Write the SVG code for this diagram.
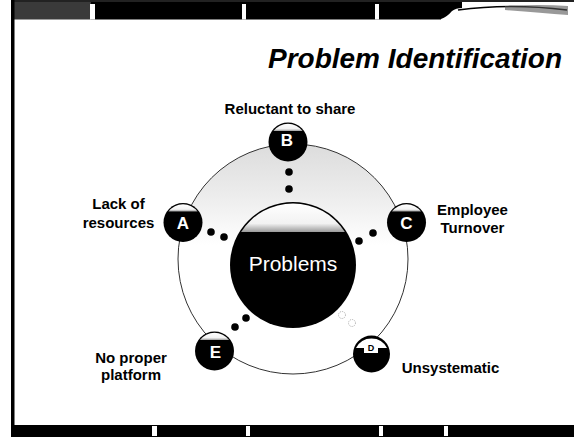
<svg xmlns="http://www.w3.org/2000/svg" width="574" height="437" viewBox="0 0 574 437">
<defs>
<style>
.lbl{font-family:"Liberation Sans",Arial,sans-serif;font-weight:bold;font-size:15px;fill:#000;text-anchor:middle}
.let{font-family:"Liberation Sans",Arial,sans-serif;font-weight:bold;font-size:17px;fill:#fff;text-anchor:middle}
.dot{fill:#000}
</style>
<linearGradient id="stip" gradientUnits="userSpaceOnUse" x1="0" y1="144" x2="0" y2="245">
<stop offset="0" stop-color="#dcdcdc"/>
<stop offset="0.5" stop-color="#ececec"/>
<stop offset="1" stop-color="#ffffff"/>
</linearGradient>
<linearGradient id="cap" x1="0" y1="0" x2="0" y2="1">
<stop offset="0" stop-color="#ffffff"/>
<stop offset="0.7" stop-color="#f2f2f2"/>
<stop offset="1" stop-color="#9a9a9a"/>
</linearGradient>
<g id="nd">
<circle r="19.5" fill="#000"/>
<path d="M-14.6,-11 A18.3 18.3 0 0 1 14.6,-11 Z" fill="url(#cap)"/>
</g>
</defs>
<rect width="574" height="437" fill="#fff"/>
<g id="frame">
<rect x="11" y="0" width="563" height="2" fill="#222"/>
<rect x="11" y="2" width="80" height="17.5" fill="#3a3a3a"/>
<rect x="91" y="2" width="350" height="17.5" fill="#000"/>
<rect x="90" y="4" width="5" height="15.5" fill="#fff"/>
<rect x="242" y="4" width="4" height="15.5" fill="#fff"/>
<rect x="375" y="4" width="4" height="15.5" fill="#fff"/>
<path d="M441,2 L441,19 Q447,17 452,11 Q456,8 462,8 L462,2 Z" fill="#000"/>
<path d="M458,10 Q510,3 567,10" fill="none" stroke="#000" stroke-width="1.3"/>
<path d="M505,6 Q540,4 568,6 L568,15 Q540,13 505,10 Z" fill="#555" opacity="0.6"/>
<rect x="11" y="0" width="3.5" height="437" fill="#000"/>
<rect x="11" y="425" width="563" height="12" fill="#000"/>
<rect x="152" y="426" width="5" height="10" fill="#fff"/>
<rect x="246" y="426" width="4" height="10" fill="#fff"/>
<rect x="379" y="426" width="4" height="10" fill="#fff"/>
<rect x="444" y="426" width="4" height="10" fill="#fff"/>
</g>
<text x="562" y="68" text-anchor="end" font-family="Liberation Sans,Arial,sans-serif" font-weight="bold" font-style="italic" font-size="28" fill="#000">Problem Identification</text>
<g id="ring">
<circle cx="293" cy="259" r="115" fill="url(#stip)" stroke="#333" stroke-width="1"/>
</g>
<g id="connectors">
<circle class="dot" cx="289" cy="172" r="3.8"/>
<circle class="dot" cx="289" cy="189" r="3.8"/>
<circle class="dot" cx="211" cy="232" r="3.8"/>
<circle class="dot" cx="224" cy="237" r="3.8"/>
<circle class="dot" cx="373" cy="233" r="3.8"/>
<circle class="dot" cx="359" cy="241" r="3.8"/>
<circle class="dot" cx="246" cy="318" r="3.8"/>
<circle class="dot" cx="235" cy="327" r="3.8"/>
<circle cx="342" cy="315" r="3.5" fill="none" stroke="#999" stroke-width="0.8" stroke-dasharray="1,1"/>
<circle cx="352" cy="323" r="3.5" fill="none" stroke="#999" stroke-width="0.8" stroke-dasharray="1,1"/>
</g>
<g id="center">
<circle cx="293" cy="265" r="63" fill="#000"/>
<path d="M241.1,232 A61.5 61.5 0 0 1 344.9,232 Z" fill="url(#cap)"/>
<text x="293" y="271" text-anchor="middle" font-family="Liberation Sans,Arial,sans-serif" font-size="21" fill="#fff">Problems</text>
</g>
<g id="nodeA">
<use href="#nd" x="183" y="222.5"/>
<text class="let" x="183" y="229">A</text>
<text class="lbl" x="118.5" y="209">Lack of</text>
<text class="lbl" x="118.5" y="228">resources</text>
</g>
<g id="nodeB">
<use href="#nd" x="288" y="142"/>
<text class="let" x="287" y="146">B</text>
<text class="lbl" x="290" y="114">Reluctant to share</text>
</g>
<g id="nodeC">
<use href="#nd" x="406.5" y="222.5"/>
<text class="let" x="406.5" y="228.5">C</text>
<text class="lbl" x="472.5" y="215">Employee</text>
<text class="lbl" x="472.5" y="233">Turnover</text>
</g>
<g id="nodeD">
<circle cx="371.5" cy="354" r="18.5" fill="#000"/>
<path d="M356,348 A17.3 17.3 0 0 1 387,348 Z" fill="#fff"/>
<rect x="364" y="342" width="14" height="11" fill="#fff"/>
<text x="371" y="351" text-anchor="middle" font-family="Liberation Sans,Arial,sans-serif" font-weight="bold" font-size="9" fill="#000">D</text>
<text class="lbl" x="450.5" y="373">Unsystematic</text>
</g>
<g id="nodeE">
<use href="#nd" x="214.5" y="351"/>
<text class="let" x="215.5" y="357.5">E</text>
<text class="lbl" x="131" y="363">No proper</text>
<text class="lbl" x="131" y="380">platform</text>
</g>
</svg>
